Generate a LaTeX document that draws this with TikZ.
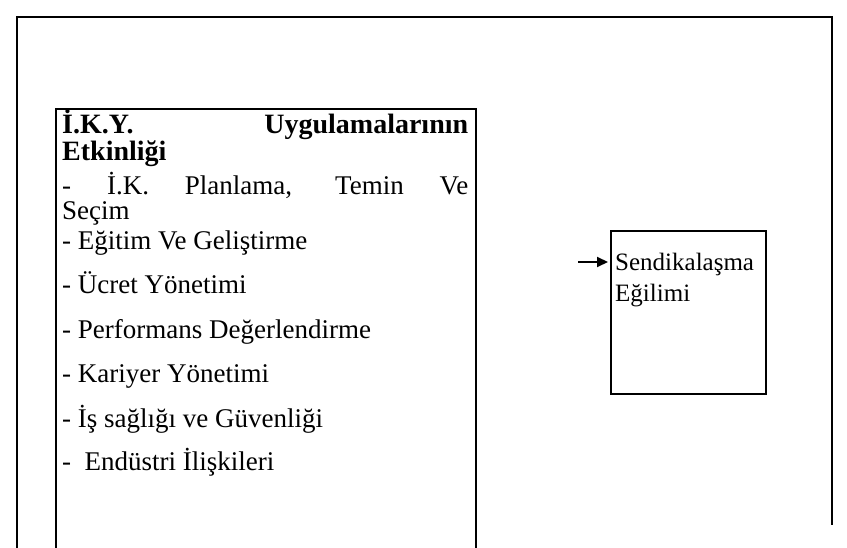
\documentclass[tikz,border=0pt]{standalone}
\usepackage{fontspec}
\setmainfont{Liberation Serif}
\usetikzlibrary{positioning,arrows.meta}
\tikzset{
	boxnode/.style={rectangle, draw, line width=2pt, anchor=north west, inner sep=0pt},
	linetext/.style={anchor=base west, inner sep=0pt, font=\fontsize{27}{30}\selectfont},
	boldtext/.style={linetext, font=\fontsize{28}{30}\selectfont\bfseries}
}
\begin{document}
\begin{tikzpicture}[x=1pt,y=-1pt]
	\useasboundingbox (0,0) rectangle (847,548);
	\clip (0,0) rectangle (847,548);
	% outer frame
	\draw[line width=2.5pt] (17,560) -- (17,17) -- (832,17) -- (832,525);
	% left box
	\node[boxnode, minimum width=420pt, minimum height=480pt] at (55,108) (etkinlik) {};
	\node[boldtext] at (62,134) (t1) {\makebox[406pt][s]{İ.K.Y. Uygulamalarının}};
	\node[boldtext] at (62,161) (t2) {Etkinliği};
	\node[linetext] at (62,195) (i1) {\makebox[406pt][s]{- İ.K. Planlama, Temin Ve}};
	\node[linetext] at (62,220) (i1b) {Seçim};
	\node[linetext] at (62,250) (i2) {- Eğitim Ve Geliştirme};
	\node[linetext] at (62,294) (i3) {- Ücret Yönetimi};
	\node[linetext] at (62,339) (i4) {- Performans Değerlendirme};
	\node[linetext] at (62,383) (i5) {- Kariyer Yönetimi};
	\node[linetext] at (62,427) (i6) {- İş sağlığı ve Güvenliği};
	\node[linetext] at (62,470) (i7) {-\ \ Endüstri İlişkileri};
	% right box
	\node[boxnode, minimum width=155pt, minimum height=163pt] at (610,230) (sendika) {};
	\node[linetext, font=\fontsize{25}{30}\selectfont] at (615,271) (s1) {Sendikalaşma};
	\node[linetext, font=\fontsize{25}{30}\selectfont] at (615,302) (s2) {Eğilimi};
	% arrow
	\coordinate (ok) at (578,262);
	\draw[-{Triangle[length=11pt,width=10pt]}, line width=2pt] (ok) -- ([xshift=-2pt]sendika.west |- ok);
\end{tikzpicture}
\end{document}
